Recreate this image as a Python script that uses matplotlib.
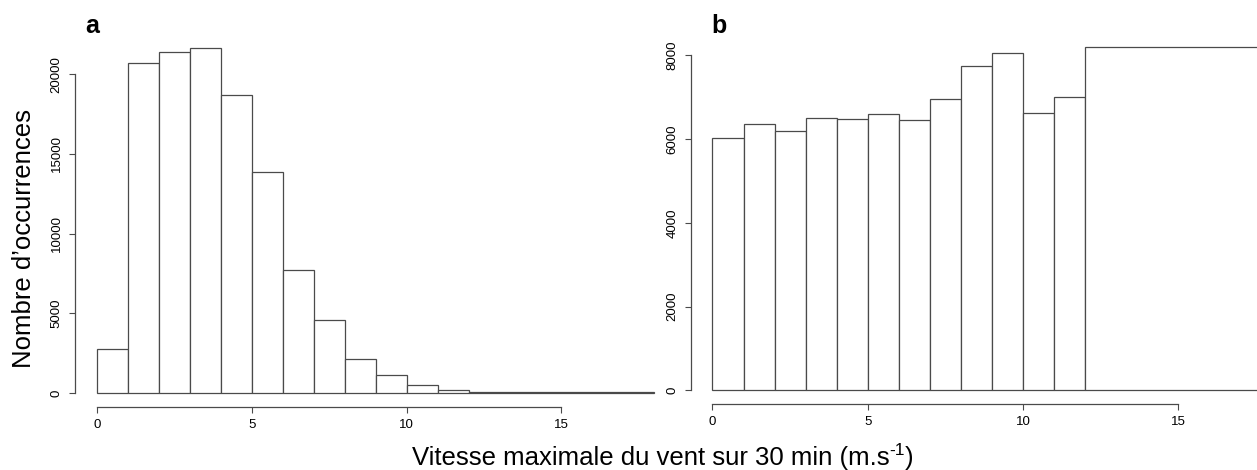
import numpy as np
import matplotlib.pyplot as plt

plt.rcParams['font.family'] = ['Liberation Sans', 'DejaVu Sans']

# panel a: counts per 1 m/s bin (last bin 12-18)
edges_a = [0, 1, 2, 3, 4, 5, 6, 7, 8, 9, 10, 11, 12, 18]
counts_a = [2780, 20680, 21410, 21625, 18680, 13850, 7700, 4600, 2115, 1110, 485, 170, 60]
yticks_a = [0, 5000, 10000, 15000, 20000]

# panel b: counts per bin (last bin runs past the right edge)
edges_b = [0, 1, 2, 3, 4, 5, 6, 7, 8, 9, 10, 11, 12, 18]
counts_b = [6030, 6350, 6190, 6510, 6470, 6590, 6455, 6950, 7740, 8060, 6620, 7000, 8190]
yticks_b = [0, 2000, 4000, 6000, 8000]

xticks = [0, 5, 10, 15]

W, H = 1257, 470
fig = plt.figure(figsize=(W / 100, H / 100), dpi=100)

LINE = '#4a4a4a'


def px_axes(left, right, bottom, top):
    return fig.add_axes([left / W, 1 - bottom / H, (right - left) / W, (bottom - top) / H])


def draw_hist(ax, edges, counts, yticks):
    edges = np.asarray(edges, float)
    ax.bar(edges[:-1], counts, width=np.diff(edges), align='edge',
           facecolor='white', edgecolor=LINE, linewidth=0.9)
    for s in ['top', 'right']:
        ax.spines[s].set_visible(False)
    ax.spines['bottom'].set_bounds(xticks[0], xticks[-1])
    ax.spines['left'].set_bounds(yticks[0], yticks[-1])
    for s in ['bottom', 'left']:
        ax.spines[s].set_color(LINE)
        ax.spines[s].set_linewidth(0.9)
    ax.set_xticks(xticks)
    ax.set_yticks(yticks)
    ax.set_yticklabels([str(v) for v in yticks], rotation=90, va='center')
    ax.tick_params(length=4.2, width=0.8, color=LINE, labelsize=9.5, pad=4.5)
    ax.patch.set_visible(False)
    # R style 4% padding on the y range
    top = max(counts)
    ax.set_ylim(-0.04 * top, 1.04 * top)


ax_a = px_axes(74.7, 676.6, 406.7, 34.5)
draw_hist(ax_a, edges_a, counts_a, yticks_a)
ax_a.set_xlim(-0.72, 18.72)

ax_b = px_axes(690.7, 1257, 404, 33.6)
draw_hist(ax_b, edges_b, counts_b, yticks_b)
ax_b.set_xlim(-0.7, 17.53)

fig.text(92.5 / W, 1 - 33 / H, 'a', fontsize=18, fontweight='bold', ha='center', va='baseline')
fig.text(719 / W, 1 - 33 / H, 'b', fontsize=18, fontweight='bold', ha='center', va='baseline')

fig.text(31 / W, 1 - 238.5 / H, 'Nombre d\u2019occurrences', fontsize=18.5, rotation=90,
         rotation_mode='anchor', ha='center', va='baseline')

# x label with a raised "-1"
t1 = fig.text(411.5 / W, 1 - 465 / H, 'Vitesse maximale du vent sur 30 min (m.s',
              fontsize=18.5, ha='left', va='baseline')
t2 = ax_a.annotate('-1', xy=(1, 0.5), xycoords=t1, fontsize=12.5,
                   ha='left', va='bottom', annotation_clip=False)
ax_a.annotate(')', xy=(1, 0), xycoords=(t2, t1), fontsize=18.5,
              ha='left', va='bottom', annotation_clip=False)

fig.savefig('out.png', dpi=100)
